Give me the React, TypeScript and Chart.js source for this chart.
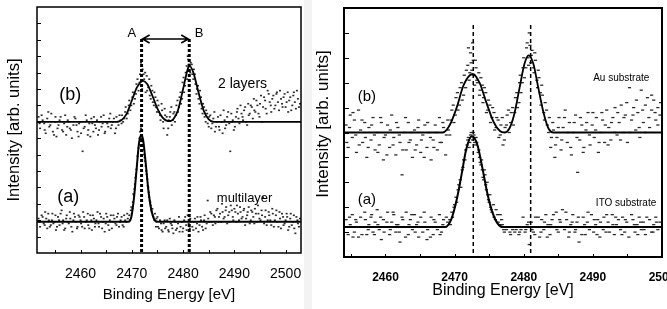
import React, { useEffect, useRef } from "react";
import { Chart, registerables } from "chart.js";

Chart.register(...registerables);
Chart.defaults.font.family = "'Liberation Sans', Arial, sans-serif";
Chart.defaults.color = "#000";

type P = [number, number];

// ---------------- LEFT PANEL DATA ----------------
const leftXMin = 2451.5;
const leftXMax = 2503;
const leftYMax = 15;
const leftTickLabels = [2460, 2470, 2480, 2490, 2500];

const leftFitB: P[] = [
  [2451.5, 8.0], [2467.0, 8.0], [2468.0, 8.1], [2469.0, 8.5], [2470.0, 9.3], [2471.0, 10.1],
  [2472.2, 10.5], [2473.0, 10.3], [2474.0, 9.6], [2475.0, 8.8], [2476.0, 8.25], [2477.0, 8.05],
  [2477.6, 8.05], [2478.2, 8.2], [2479.0, 8.7], [2480.0, 10.0], [2481.0, 11.3], [2481.3, 11.4],
  [2482.0, 11.0], [2483.0, 9.8], [2484.0, 8.7], [2485.0, 8.15], [2486.0, 8.0], [2503.0, 8.0],
];

const leftFitA: P[] = [
  [2451.5, 1.9], [2469.3, 1.9], [2469.9, 2.2], [2470.4, 3.3], [2470.9, 5.0], [2471.4, 6.7],
  [2471.8, 7.2], [2472.2, 6.9], [2472.7, 5.5], [2473.2, 3.9], [2473.7, 2.8], [2474.3, 2.1],
  [2475.0, 1.9], [2503.0, 1.9],
];

const leftPtsB: P[] = [
  [2451.8, 8.3], [2452.1, 7.6], [2452.4, 8.4], [2452.9, 7.9], [2453.2, 7.3], [2453.5, 8.2], [2453.9, 7.7],
  [2454.3, 8.5], [2454.6, 7.4], [2455.0, 8.0], [2455.3, 7.1], [2455.7, 7.8], [2456.1, 8.3], [2456.4, 7.5],
  [2456.8, 7.9], [2457.2, 7.2], [2457.5, 8.1], [2457.9, 7.6], [2458.3, 7.0], [2458.6, 7.8], [2459.0, 8.2],
  [2459.4, 7.4], [2459.7, 7.9], [2460.1, 7.3], [2460.4, 6.2], [2460.8, 7.7], [2461.2, 8.1], [2461.5, 7.5],
  [2461.9, 7.1], [2462.3, 7.9], [2462.6, 8.3], [2463.0, 7.6], [2463.4, 7.2], [2463.7, 8.0], [2464.1, 7.7],
  [2464.5, 8.4], [2464.8, 7.4], [2465.2, 7.9], [2465.6, 8.2], [2465.9, 7.6], [2466.3, 8.0], [2466.7, 7.3],
  [2467.0, 8.3], [2467.4, 7.8], [2467.8, 8.1],
  [2468.1, 8.4], [2468.5, 8.2], [2468.8, 8.9], [2469.2, 8.5], [2469.5, 9.3], [2469.9, 9.0], [2470.2, 9.8],
  [2470.6, 9.4], [2470.9, 10.3], [2471.3, 9.9], [2471.6, 10.9], [2471.9, 10.2], [2472.1, 11.2], [2472.4, 10.6],
  [2472.7, 9.8], [2472.9, 10.8], [2473.2, 10.1], [2473.5, 9.6], [2473.8, 10.2], [2474.1, 9.2], [2474.4, 9.8],
  [2474.7, 8.9], [2475.0, 9.3], [2475.3, 8.6], [2475.6, 8.1], [2475.9, 8.7], [2476.2, 7.6], [2476.5, 8.4],
  [2476.9, 7.2], [2477.2, 8.1], [2477.5, 8.6], [2477.8, 7.8],
  [2478.1, 8.5], [2478.4, 8.0], [2478.7, 9.0], [2479.0, 8.6], [2479.3, 9.5], [2479.6, 9.1], [2479.9, 10.4],
  [2480.2, 9.8], [2480.5, 11.0], [2480.8, 10.6], [2481.0, 11.8], [2481.2, 11.1], [2481.5, 11.6], [2481.8, 10.9],
  [2482.1, 11.2], [2482.4, 10.3], [2482.7, 10.0], [2483.0, 9.4], [2483.3, 9.9], [2483.6, 8.8], [2483.9, 9.1],
  [2484.2, 8.3], [2484.5, 8.7], [2484.8, 7.9], [2485.1, 8.3],
  [2485.5, 7.6], [2485.9, 8.2], [2486.2, 7.4], [2486.6, 8.0], [2487.0, 7.7], [2487.3, 8.4], [2487.7, 7.3],
  [2488.1, 8.1], [2488.4, 7.8], [2488.8, 8.6], [2489.2, 6.2], [2489.5, 8.0], [2489.9, 7.5], [2490.3, 8.3],
  [2490.6, 8.8], [2491.0, 7.9], [2491.4, 8.5], [2491.7, 8.1], [2492.1, 8.9], [2492.5, 7.8], [2492.8, 8.4],
  [2493.2, 9.0], [2493.6, 8.2], [2493.9, 8.7], [2494.3, 9.3], [2494.7, 8.5], [2495.0, 9.1], [2495.4, 8.0],
  [2495.8, 9.5], [2496.1, 8.8], [2496.5, 9.9], [2496.9, 9.2], [2497.2, 8.6], [2497.6, 9.6], [2498.0, 9.0],
  [2498.3, 9.8], [2498.7, 8.7], [2499.1, 9.4], [2499.4, 8.9], [2499.8, 9.7], [2500.2, 9.2], [2500.5, 8.6],
  [2500.9, 9.5], [2501.3, 9.0], [2501.6, 9.8], [2502.0, 8.8], [2502.4, 9.4], [2502.8, 9.1],
];

const leftPtsB2: P[] = [
  [2452.0, 7.9], [2452.6, 8.1], [2453.0, 7.5], [2453.7, 8.6], [2454.1, 7.8], [2454.8, 7.2], [2455.1, 8.3],
  [2455.5, 7.6], [2455.9, 8.1], [2456.6, 7.4], [2457.0, 8.4], [2457.4, 7.7], [2457.7, 8.0], [2458.1, 7.5],
  [2458.8, 8.3], [2459.2, 7.8], [2459.6, 7.1], [2460.0, 8.0], [2460.6, 7.6], [2461.0, 8.4], [2461.4, 7.2],
  [2461.7, 7.9], [2462.1, 8.2], [2462.5, 7.4], [2462.8, 7.8], [2463.2, 8.1], [2463.6, 7.5], [2464.0, 8.3],
  [2464.3, 7.9], [2464.7, 7.3], [2465.0, 8.0], [2465.4, 7.7], [2465.8, 8.5], [2466.1, 7.8], [2466.5, 8.2],
  [2466.9, 7.6], [2467.2, 8.0], [2467.6, 8.4], [2468.0, 7.9],
  [2468.3, 8.0], [2468.7, 8.6], [2469.0, 8.2], [2469.4, 9.0], [2469.7, 8.7], [2470.1, 9.5], [2470.4, 9.1],
  [2470.8, 9.7], [2471.1, 10.6], [2471.5, 10.4], [2471.8, 11.6], [2472.0, 10.0], [2472.3, 10.9], [2472.6, 11.0],
  [2473.0, 9.9], [2473.4, 10.6], [2473.7, 9.4], [2474.0, 9.9], [2474.3, 9.0], [2474.6, 9.5], [2474.9, 8.6],
  [2475.2, 9.0], [2475.5, 8.4], [2475.8, 9.1], [2476.1, 8.0], [2476.4, 8.8], [2476.8, 8.3], [2477.1, 7.6],
  [2477.4, 8.3], [2477.7, 8.9],
  [2478.0, 8.1], [2478.3, 8.6], [2478.6, 8.4], [2478.9, 9.3], [2479.2, 8.9], [2479.5, 9.8], [2479.8, 9.4],
  [2480.1, 10.7], [2480.4, 10.2], [2480.7, 11.4], [2480.9, 12.0], [2481.1, 11.5], [2481.4, 11.0], [2481.7, 11.5],
  [2482.0, 10.6], [2482.3, 10.9], [2482.6, 9.7], [2482.9, 10.2], [2483.2, 9.1], [2483.5, 9.5], [2483.8, 8.5],
  [2484.1, 8.9], [2484.4, 8.0], [2484.7, 8.5], [2485.0, 7.7],
  [2485.3, 8.4], [2485.7, 7.9], [2486.1, 8.6], [2486.4, 7.7], [2486.8, 8.3], [2487.1, 7.5], [2487.5, 8.0],
  [2487.9, 8.7], [2488.2, 7.6], [2488.6, 8.3], [2489.0, 7.9], [2489.4, 8.5], [2489.7, 8.1], [2490.1, 7.7],
  [2490.5, 8.6], [2490.8, 8.2], [2491.2, 9.0], [2491.6, 8.3], [2491.9, 8.7], [2492.3, 8.0], [2492.7, 9.1],
  [2493.0, 8.5], [2493.4, 8.9], [2493.8, 9.4], [2494.1, 8.6], [2494.5, 9.0], [2494.9, 8.3], [2495.2, 9.6],
  [2495.6, 8.9], [2496.0, 9.3], [2496.3, 8.5], [2496.7, 9.7], [2497.1, 9.0], [2497.4, 9.4], [2497.8, 8.8],
  [2498.2, 9.7], [2498.5, 9.2], [2498.9, 9.9], [2499.3, 9.1], [2499.6, 9.5], [2500.0, 8.9], [2500.4, 9.8],
  [2500.7, 9.3], [2501.1, 8.7], [2501.5, 9.6], [2501.8, 9.2], [2502.2, 9.9], [2502.6, 8.9],
];

const leftPtsA: P[] = [
  [2451.8, 2.1], [2452.1, 1.6], [2452.4, 2.3], [2452.8, 1.8], [2453.1, 2.5], [2453.5, 1.5], [2453.8, 2.0],
  [2454.2, 1.7], [2454.5, 2.4], [2454.9, 1.9], [2455.2, 1.4], [2455.6, 2.2], [2455.9, 1.7], [2456.3, 2.6],
  [2456.6, 2.0], [2457.0, 1.5], [2457.3, 2.3], [2457.7, 1.8], [2458.0, 2.1], [2458.4, 1.3], [2458.7, 2.4],
  [2459.1, 1.9], [2459.4, 1.6], [2459.8, 2.2], [2460.1, 1.8], [2460.5, 2.5], [2460.8, 1.5], [2461.2, 2.0],
  [2461.5, 1.7], [2461.9, 2.3], [2462.2, 1.4], [2462.6, 2.1], [2462.9, 1.8], [2463.3, 2.5], [2463.6, 1.6],
  [2464.0, 2.2], [2464.3, 1.9], [2464.7, 1.3], [2465.0, 2.4], [2465.4, 1.7], [2465.7, 2.0], [2466.1, 1.5],
  [2466.4, 2.3], [2466.8, 1.8], [2467.1, 2.2], [2467.5, 1.6], [2467.8, 2.0], [2468.2, 1.7], [2468.5, 2.3],
  [2468.9, 1.9], [2469.2, 2.1],
  [2469.5, 2.3], [2469.8, 2.6], [2470.0, 2.4], [2470.2, 3.1], [2470.4, 3.5], [2470.6, 4.2], [2470.8, 4.8],
  [2471.0, 5.4], [2471.2, 6.1], [2471.4, 6.6], [2471.6, 7.4], [2471.7, 7.0], [2471.9, 7.2], [2472.1, 6.8],
  [2472.3, 6.3], [2472.5, 5.8], [2472.7, 5.3], [2472.9, 4.8], [2473.1, 4.1], [2473.3, 3.7], [2473.5, 3.2],
  [2473.7, 2.9], [2473.9, 2.5], [2474.1, 2.3], [2474.4, 2.0], [2474.7, 1.6],
  [2475.0, 2.2], [2475.3, 1.5], [2475.7, 1.8], [2476.0, 1.3], [2476.4, 2.0], [2476.7, 1.6], [2477.1, 1.4],
  [2477.4, 2.1], [2477.8, 1.7], [2478.1, 1.2], [2478.5, 1.9], [2478.8, 1.5], [2479.2, 2.2], [2479.5, 1.6],
  [2479.9, 1.3], [2480.2, 2.0], [2480.6, 1.7], [2480.9, 2.3], [2481.3, 1.5], [2481.6, 1.9], [2482.0, 1.4],
  [2482.3, 2.1], [2482.7, 1.8], [2483.0, 1.3], [2483.4, 2.2], [2483.7, 1.6], [2484.1, 2.0], [2484.4, 1.5],
  [2484.8, 3.2], [2485.1, 1.9], [2485.5, 2.4], [2485.8, 1.7], [2486.2, 2.2], [2486.5, 2.6], [2486.9, 1.9],
  [2487.2, 2.4], [2487.6, 3.0], [2487.9, 2.1], [2488.3, 2.6], [2488.6, 1.8], [2489.0, 2.5], [2489.3, 2.9],
  [2489.7, 2.2], [2490.0, 2.7], [2490.4, 1.9], [2490.7, 2.4], [2491.1, 2.8], [2491.4, 2.1], [2491.8, 2.6],
  [2492.1, 1.7], [2492.5, 2.3], [2492.8, 2.8], [2493.2, 2.0], [2493.5, 2.5], [2493.9, 1.8], [2494.2, 2.4],
  [2494.6, 2.9], [2494.9, 2.1], [2495.3, 2.6], [2495.6, 3.4], [2496.0, 2.2], [2496.3, 1.7], [2496.7, 2.5],
  [2497.0, 2.0], [2497.4, 2.7], [2497.7, 1.6], [2498.1, 2.3], [2498.4, 1.9], [2498.8, 2.5], [2499.1, 1.5],
  [2499.5, 2.2], [2499.8, 1.8], [2500.2, 2.4], [2500.5, 1.4], [2500.9, 2.1], [2501.2, 1.7], [2501.6, 2.3],
  [2501.9, 1.2], [2502.3, 2.0], [2502.6, 1.6],
];

const leftPtsA2: P[] = [
  [2452.0, 1.9], [2452.6, 2.2], [2453.0, 1.7], [2453.3, 2.1], [2453.7, 2.4], [2454.0, 1.6], [2454.4, 2.0],
  [2454.7, 1.8], [2455.1, 2.3], [2455.4, 1.6], [2455.8, 2.0], [2456.1, 2.4], [2456.5, 1.8], [2456.8, 1.4],
  [2457.2, 2.1], [2457.5, 1.9], [2457.9, 2.5], [2458.2, 1.6], [2458.6, 2.0], [2458.9, 2.2], [2459.3, 1.5],
  [2459.6, 2.3], [2460.0, 2.0], [2460.3, 1.6], [2460.7, 2.2], [2461.0, 1.9], [2461.4, 2.4], [2461.7, 1.5],
  [2462.1, 2.0], [2462.4, 2.3], [2462.8, 1.6], [2463.1, 2.0], [2463.5, 1.8], [2463.8, 2.4], [2464.2, 1.5],
  [2464.5, 2.1], [2464.9, 1.8], [2465.2, 2.2], [2465.6, 1.4], [2465.9, 2.3], [2466.3, 1.9], [2466.6, 2.1],
  [2467.0, 1.7], [2467.3, 2.4], [2467.7, 1.9], [2468.0, 2.2], [2468.4, 1.6], [2468.7, 2.0], [2469.1, 2.4],
  [2469.6, 2.0], [2469.9, 2.8], [2470.1, 2.7], [2470.3, 3.6], [2470.5, 3.9], [2470.7, 4.6], [2470.9, 5.1],
  [2471.1, 5.9], [2471.3, 6.4], [2471.5, 7.0], [2471.8, 7.6], [2472.0, 7.0], [2472.2, 6.6], [2472.4, 6.0],
  [2472.6, 5.6], [2472.8, 5.0], [2473.0, 4.5], [2473.2, 4.0], [2473.4, 3.4], [2473.6, 3.1], [2473.8, 2.6],
  [2474.0, 2.7], [2474.2, 2.2], [2474.5, 2.4], [2474.8, 2.1],
  [2475.1, 1.6], [2475.5, 2.0], [2475.8, 1.4], [2476.2, 1.8], [2476.5, 1.5], [2476.9, 2.0], [2477.2, 1.3],
  [2477.6, 1.8], [2477.9, 1.5], [2478.3, 2.0], [2478.6, 1.4], [2479.0, 1.8], [2479.3, 1.3], [2479.7, 1.9],
  [2480.0, 1.5], [2480.4, 2.2], [2480.7, 1.4], [2481.1, 1.8], [2481.4, 2.1], [2481.8, 1.6], [2482.1, 1.9],
  [2482.5, 1.5], [2482.8, 2.2], [2483.2, 1.7], [2483.5, 2.0], [2483.9, 1.4], [2484.2, 2.3], [2484.6, 1.8],
  [2484.9, 2.1], [2485.3, 2.5], [2485.6, 1.9], [2486.0, 2.3], [2486.3, 1.8], [2486.7, 2.7], [2487.0, 2.2],
  [2487.4, 1.9], [2487.7, 2.5], [2488.1, 2.2], [2488.4, 2.8], [2488.8, 2.3], [2489.1, 1.9], [2489.5, 2.6],
  [2489.8, 2.0], [2490.2, 2.5], [2490.5, 2.9], [2490.9, 2.0], [2491.2, 2.5], [2491.6, 2.2], [2491.9, 2.7],
  [2492.3, 2.1], [2492.6, 2.5], [2493.0, 1.8], [2493.3, 2.6], [2493.7, 2.2], [2494.0, 2.7], [2494.4, 1.9],
  [2494.7, 2.4], [2495.1, 2.0], [2495.4, 2.3], [2495.8, 1.8], [2496.1, 2.6], [2496.5, 2.0], [2496.8, 2.3],
  [2497.2, 1.7], [2497.5, 2.4], [2497.9, 2.0], [2498.2, 2.6], [2498.6, 1.6], [2498.9, 2.1], [2499.3, 2.4],
  [2499.6, 1.7], [2500.0, 2.0], [2500.3, 2.2], [2500.7, 1.6], [2501.0, 2.4], [2501.4, 1.9], [2501.7, 1.5],
  [2502.1, 2.2], [2502.4, 1.8], [2502.8, 2.1],
];

// ---------------- RIGHT PANEL DATA ----------------
const rightXMin = 2454;
const rightXMax = 2500;
const rightYMax = 10;
const rightTickLabels = [2460, 2470, 2480, 2490, 2500];

const rightFitB: P[] = [
  [2454, 5.0], [2468.3, 5.0], [2469.3, 5.3], [2470.3, 6.0], [2471.3, 6.9], [2472.6, 7.35], [2473.6, 7.0],
  [2474.6, 6.2], [2475.6, 5.45], [2476.6, 5.05], [2477.2, 5.0], [2477.9, 5.15], [2478.6, 5.7], [2479.4, 6.8],
  [2480.1, 7.75], [2480.7, 8.1], [2481.4, 7.75], [2482.1, 6.8], [2482.9, 5.75], [2483.6, 5.15], [2484.3, 5.0],
  [2500, 5.0],
];

const rightFitA: P[] = [
  [2454, 1.2], [2468.6, 1.2], [2469.5, 1.5], [2470.3, 2.3], [2471.0, 3.3], [2471.7, 4.35], [2472.5, 4.85],
  [2473.3, 4.5], [2474.0, 3.6], [2474.7, 2.6], [2475.4, 1.85], [2476.2, 1.35], [2477.0, 1.2], [2500, 1.2],
];

const rightPtsB: P[] = [
  [2454.3, 5.3], [2454.6, 4.4], [2454.9, 5.7], [2455.2, 4.8], [2455.5, 5.5], [2455.8, 4.2], [2456.1, 5.9],
  [2456.4, 5.1], [2456.7, 4.6], [2457.0, 5.4], [2457.3, 4.0], [2457.6, 5.2], [2457.9, 4.7], [2458.2, 5.6],
  [2458.5, 4.3], [2458.8, 5.0], [2459.1, 4.5], [2459.4, 5.4], [2459.7, 3.9], [2460.0, 4.9], [2460.3, 5.3],
  [2460.6, 4.4], [2460.9, 5.7], [2461.2, 4.8], [2461.5, 4.1], [2461.8, 5.2], [2462.1, 4.6], [2462.4, 3.3],
  [2462.7, 5.0], [2463.0, 4.3], [2463.3, 5.4], [2463.6, 4.7], [2463.9, 4.0], [2464.2, 5.1], [2464.5, 4.5],
  [2464.8, 5.5], [2465.1, 4.2], [2465.4, 4.9], [2465.7, 5.3], [2466.0, 4.4], [2466.3, 5.0], [2466.6, 3.9],
  [2466.9, 4.7], [2467.2, 5.3], [2467.5, 4.3], [2467.8, 5.6], [2468.1, 4.6], [2468.4, 5.2], [2468.7, 4.1],
  [2469.0, 5.5], [2469.3, 4.9], [2469.6, 5.9], [2469.9, 5.4], [2470.2, 6.4], [2470.5, 5.9], [2470.8, 6.8],
  [2471.1, 6.3], [2471.4, 7.3], [2471.6, 6.8], [2471.9, 7.7], [2472.1, 7.1], [2472.3, 8.2], [2472.5, 7.5],
  [2472.7, 7.9], [2472.9, 6.9], [2473.1, 7.6], [2473.3, 7.0], [2473.6, 6.5], [2473.8, 7.2], [2474.1, 6.2],
  [2474.3, 6.8], [2474.6, 5.8], [2474.9, 6.3], [2475.2, 5.4], [2475.5, 6.0], [2475.8, 5.1], [2476.1, 5.6],
  [2476.4, 4.8], [2476.7, 5.3], [2477.0, 4.5], [2477.3, 5.2], [2477.6, 5.7],
  [2477.9, 5.0], [2478.2, 5.8], [2478.5, 5.3], [2478.8, 6.4], [2479.1, 6.0], [2479.4, 7.0], [2479.6, 6.6],
  [2479.9, 7.6], [2480.1, 7.2], [2480.4, 8.4], [2480.6, 8.0], [2480.8, 9.0], [2481.0, 7.8], [2481.2, 8.3],
  [2481.5, 7.4], [2481.7, 7.9], [2482.0, 6.8], [2482.2, 7.2], [2482.5, 6.1], [2482.7, 6.5], [2483.0, 5.5],
  [2483.3, 5.9], [2483.6, 5.0], [2483.9, 4.4], [2484.2, 5.4], [2484.5, 4.0],
  [2484.8, 4.8], [2485.1, 5.6], [2485.4, 4.3], [2485.7, 5.2], [2486.0, 5.9], [2486.3, 4.6], [2486.6, 5.4],
  [2486.9, 4.1], [2487.2, 5.0], [2487.5, 5.7], [2487.8, 3.4], [2488.1, 4.7], [2488.4, 5.3], [2488.7, 4.4],
  [2489.0, 5.1], [2489.3, 5.8], [2489.6, 4.5], [2489.9, 5.3], [2490.2, 4.8], [2490.5, 5.6], [2490.8, 4.2],
  [2491.1, 5.0], [2491.4, 5.5], [2491.7, 4.6], [2492.0, 5.9], [2492.3, 5.2], [2492.6, 4.7], [2492.9, 5.6],
  [2493.2, 6.0], [2493.5, 4.9], [2493.8, 5.4], [2494.1, 6.1], [2494.4, 5.0], [2494.7, 5.7], [2495.0, 4.6],
  [2495.3, 6.8], [2495.6, 5.5], [2495.9, 6.0], [2496.2, 5.1], [2496.5, 5.8], [2496.8, 4.8], [2497.0, 6.7],
  [2497.3, 5.4], [2497.6, 6.1], [2497.9, 6.4], [2498.2, 5.2], [2498.5, 5.9], [2498.8, 6.3], [2499.1, 5.5],
  [2499.4, 6.0], [2499.7, 5.7],
];

const rightPtsB2: P[] = [
  [2454.4, 4.6], [2454.8, 5.2], [2455.3, 5.8], [2455.7, 4.9], [2456.2, 4.5], [2456.6, 5.5], [2457.1, 4.8],
  [2457.5, 4.4], [2458.0, 5.3], [2458.4, 4.9], [2458.9, 4.2], [2459.3, 5.6], [2459.8, 4.8], [2460.2, 4.1],
  [2460.7, 5.1], [2461.1, 4.5], [2461.6, 5.4], [2462.0, 4.9], [2462.5, 4.3], [2462.9, 5.6], [2463.4, 4.6],
  [2463.8, 5.0], [2464.3, 4.3], [2464.7, 5.2], [2465.2, 4.7], [2465.6, 4.0], [2466.1, 5.4], [2466.5, 4.8],
  [2467.0, 4.4], [2467.4, 5.0], [2467.9, 4.6], [2468.3, 5.4], [2468.8, 4.9],
  [2469.1, 5.1], [2469.5, 5.5], [2469.8, 6.1], [2470.1, 5.7], [2470.4, 6.6], [2470.7, 6.1], [2471.0, 7.0],
  [2471.3, 6.5], [2471.7, 7.5], [2472.0, 8.4], [2472.2, 7.4], [2472.4, 7.8], [2472.6, 8.6], [2472.8, 7.3],
  [2473.0, 7.9], [2473.2, 7.1], [2473.5, 7.4], [2473.7, 6.7], [2474.0, 6.9], [2474.2, 6.4], [2474.5, 6.6],
  [2474.8, 5.9], [2475.1, 6.1], [2475.4, 5.6], [2475.7, 5.8], [2476.0, 5.2], [2476.3, 5.5], [2476.6, 4.9],
  [2476.9, 5.6], [2477.2, 4.7], [2477.5, 5.3], [2477.8, 5.9],
  [2478.1, 5.4], [2478.4, 6.0], [2478.7, 5.8], [2479.0, 6.6], [2479.3, 6.2], [2479.5, 7.3], [2479.8, 7.0],
  [2480.0, 8.0], [2480.3, 7.6], [2480.5, 8.6], [2480.7, 7.7], [2480.9, 8.5], [2481.1, 8.1], [2481.4, 7.6],
  [2481.6, 8.2], [2481.9, 7.1], [2482.1, 7.5], [2482.4, 6.6], [2482.6, 6.9], [2482.9, 5.8], [2483.1, 6.2],
  [2483.4, 5.3], [2483.7, 5.6], [2484.0, 4.8], [2484.3, 5.1], [2484.6, 4.5],
  [2485.0, 5.2], [2485.5, 4.7], [2485.9, 5.6], [2486.4, 5.0], [2486.8, 4.4], [2487.3, 5.4], [2487.7, 4.8],
  [2488.2, 5.6], [2488.6, 4.2], [2489.1, 5.4], [2489.5, 4.9], [2490.0, 5.8], [2490.4, 5.1], [2490.9, 4.6],
  [2491.3, 5.8], [2491.8, 5.3], [2492.2, 4.5], [2492.7, 5.4], [2493.1, 5.0], [2493.6, 5.8], [2494.0, 4.7],
  [2494.5, 5.6], [2494.9, 6.2], [2495.4, 5.0], [2495.8, 5.7], [2496.3, 6.3], [2496.7, 5.2], [2497.2, 5.9],
  [2497.6, 5.0], [2498.1, 5.6], [2498.5, 6.5], [2499.0, 5.8], [2499.4, 5.3], [2499.8, 6.2],
];

const rightPtsA: P[] = [
  [2454.3, 1.5], [2454.6, 0.9], [2454.9, 1.3], [2455.2, 1.7], [2455.5, 1.0], [2455.8, 1.4], [2456.1, 0.8],
  [2456.4, 1.6], [2456.7, 1.2], [2457.0, 1.8], [2457.3, 0.9], [2457.6, 1.3], [2457.9, 1.6], [2458.2, 1.0],
  [2458.5, 1.4], [2458.8, 1.9], [2459.1, 1.1], [2459.4, 0.7], [2459.7, 1.5], [2460.0, 1.2], [2460.3, 1.8],
  [2460.6, 0.9], [2460.9, 1.4], [2461.2, 1.7], [2461.5, 1.0], [2461.8, 1.3], [2462.1, 0.6], [2462.4, 1.6],
  [2462.7, 1.2], [2463.0, 1.8], [2463.3, 0.9], [2463.6, 1.5], [2463.9, 1.1], [2464.2, 1.7], [2464.5, 1.3],
  [2464.8, 0.8], [2465.1, 1.6], [2465.4, 1.0], [2465.7, 1.4], [2466.0, 0.7], [2466.3, 1.2], [2466.6, 1.6],
  [2466.9, 0.9], [2467.2, 1.4], [2467.5, 1.1], [2467.8, 1.7], [2468.1, 1.0], [2468.4, 1.5], [2468.7, 1.2],
  [2469.0, 1.4], [2469.3, 1.5], [2469.6, 1.8], [2469.9, 2.0], [2470.2, 2.4], [2470.5, 2.7], [2470.8, 3.1],
  [2471.1, 3.5], [2471.3, 3.9], [2471.6, 4.3], [2471.8, 4.5], [2472.0, 4.8], [2472.2, 4.6], [2472.4, 5.0],
  [2472.6, 4.7], [2472.8, 4.9], [2473.0, 4.5], [2473.2, 4.6], [2473.4, 4.2], [2473.6, 4.0], [2473.8, 3.7],
  [2474.0, 3.5], [2474.2, 3.1], [2474.4, 3.3], [2474.6, 2.7], [2474.8, 2.5], [2475.0, 2.2], [2475.2, 2.0],
  [2475.4, 1.8], [2475.7, 1.6], [2476.0, 1.9], [2476.3, 1.4], [2476.6, 1.7],
  [2476.9, 1.3], [2477.2, 1.0], [2477.5, 1.1], [2477.8, 1.2], [2478.1, 0.9], [2478.4, 1.1], [2478.7, 1.0],
  [2479.0, 1.2], [2479.3, 0.9], [2479.6, 1.1], [2479.9, 1.6], [2480.2, 1.0], [2480.5, 1.3], [2480.8, 0.5],
  [2481.1, 1.4], [2481.4, 1.0], [2481.7, 1.6], [2482.0, 1.2], [2482.3, 0.8], [2482.6, 1.5], [2482.9, 1.1],
  [2483.2, 1.7], [2483.5, 1.3], [2483.8, 0.9], [2484.1, 1.5], [2484.4, 1.2], [2484.7, 1.8], [2485.0, 1.0],
  [2485.3, 1.4], [2485.6, 1.9], [2485.9, 1.1], [2486.2, 1.5], [2486.5, 0.8], [2486.8, 1.3], [2487.1, 1.7],
  [2487.4, 1.0], [2487.7, 1.4], [2488.0, 0.6], [2488.3, 1.2], [2488.6, 1.6], [2488.9, 0.9], [2489.2, 1.4],
  [2489.5, 1.1], [2489.8, 1.7], [2490.1, 1.0], [2490.4, 1.3], [2490.7, 1.5], [2491.0, 0.8], [2491.3, 1.2],
  [2491.6, 1.6], [2491.9, 1.0], [2492.2, 1.4], [2492.5, 1.2], [2492.8, 1.7], [2493.1, 0.9], [2493.4, 1.3],
  [2493.7, 1.5], [2494.0, 1.1], [2494.3, 1.6], [2494.6, 1.0], [2494.9, 1.4], [2495.2, 0.8], [2495.5, 1.2],
  [2495.8, 1.5], [2496.1, 1.0], [2496.4, 1.3], [2496.7, 1.6], [2497.0, 1.1], [2497.3, 1.4], [2497.6, 0.9],
  [2497.9, 1.2], [2498.2, 1.5], [2498.5, 1.0], [2498.8, 1.3], [2499.1, 1.6], [2499.4, 1.1], [2499.7, 1.4],
];

const rightPtsA2: P[] = [
  [2454.4, 1.2], [2454.8, 1.6], [2455.3, 0.8], [2455.7, 1.5], [2456.2, 1.2], [2456.6, 0.9], [2457.1, 1.5],
  [2457.5, 1.1], [2458.0, 1.7], [2458.4, 0.9], [2458.9, 1.3], [2459.3, 1.6], [2459.8, 1.0], [2460.2, 1.4],
  [2460.7, 1.1], [2461.1, 1.8], [2461.6, 1.3], [2462.0, 1.0], [2462.5, 1.5], [2462.9, 0.8], [2463.4, 1.3],
  [2463.8, 1.7], [2464.3, 1.0], [2464.7, 1.4], [2465.2, 1.2], [2465.6, 1.8], [2466.1, 1.1], [2466.5, 0.8],
  [2467.0, 1.5], [2467.4, 1.2], [2467.9, 0.9], [2468.3, 1.3], [2468.8, 1.6],
  [2469.4, 1.3], [2469.7, 1.6], [2470.0, 2.1], [2470.3, 2.2], [2470.6, 2.9], [2470.9, 2.8], [2471.2, 3.6],
  [2471.5, 3.9], [2471.9, 4.7], [2472.1, 4.4], [2472.3, 4.9], [2472.7, 5.0], [2472.9, 4.6], [2473.1, 4.8],
  [2473.5, 4.3], [2473.7, 3.8], [2473.9, 3.9], [2474.1, 3.2], [2474.3, 3.5], [2474.5, 2.9], [2474.7, 3.0],
  [2474.9, 2.3], [2475.1, 2.5], [2475.3, 1.9], [2475.6, 2.1], [2475.9, 1.5], [2476.2, 1.7], [2476.5, 1.3],
  [2476.8, 1.5],
  [2477.1, 1.1], [2477.6, 1.2], [2478.0, 1.0], [2478.5, 1.2], [2478.9, 1.1], [2479.4, 1.0], [2479.8, 1.2],
  [2480.3, 1.1], [2480.7, 1.4], [2481.2, 1.1], [2481.6, 0.9], [2482.1, 1.6], [2482.5, 1.0], [2483.0, 1.4],
  [2483.4, 0.8], [2483.9, 1.3], [2484.3, 1.7], [2484.8, 1.1], [2485.2, 1.5], [2485.7, 1.2], [2486.1, 1.8],
  [2486.6, 1.0], [2487.0, 1.4], [2487.5, 1.1], [2487.9, 1.6], [2488.4, 0.9], [2488.8, 1.3], [2489.3, 1.8],
  [2489.7, 1.2], [2490.2, 1.5], [2490.6, 0.9], [2491.1, 1.4], [2491.5, 1.1], [2492.0, 1.7], [2492.4, 1.0],
  [2492.9, 1.3], [2493.3, 1.6], [2493.8, 1.2], [2494.2, 0.9], [2494.7, 1.5], [2495.1, 1.2], [2495.6, 1.7],
  [2496.0, 1.3], [2496.5, 0.9], [2496.9, 1.4], [2497.4, 1.1], [2497.8, 1.6], [2498.3, 1.2], [2498.7, 1.0],
  [2499.2, 1.4], [2499.6, 1.2],
];

// ---------------- OVERLAY PLUGIN ----------------
const FONT = "'Liberation Sans', Arial, sans-serif";

type TextNote = { text: string; x: number; y: number; size: number };
type OverlayOpts = {
  frameWidth: number;
  xTickStep: number;
  xTickLen: number;
  yTickLen: number;
  vlines: { x: number; yTop: number; width: number; dash: number[] }[];
  arrow?: { x1: number; x2: number; y: number };
  notes: TextNote[];
  yTitle?: { text: string; cx: number; cy: number; size: number };
};

const overlayPlugin = {
  id: "overlay",
  afterDatasetsDraw(chart: any, _args: any, opts: OverlayOpts) {
    const { ctx, chartArea: a, scales } = chart;
    const xs = scales.x;
    const ys = scales.y;
    ctx.save();
    ctx.strokeStyle = "#000";
    ctx.fillStyle = "#000";

    opts.vlines.forEach((v) => {
      const px = xs.getPixelForValue(v.x);
      ctx.beginPath();
      ctx.lineWidth = v.width;
      ctx.setLineDash(v.dash);
      ctx.moveTo(px, ys.getPixelForValue(v.yTop));
      ctx.lineTo(px, a.bottom);
      ctx.stroke();
    });
    ctx.setLineDash([]);

    if (opts.arrow) {
      const x1 = xs.getPixelForValue(opts.arrow.x1) + 1;
      const x2 = xs.getPixelForValue(opts.arrow.x2) - 1;
      const py = ys.getPixelForValue(opts.arrow.y);
      ctx.lineWidth = 1.6;
      ctx.beginPath();
      ctx.moveTo(x1, py);
      ctx.lineTo(x2, py);
      ctx.moveTo(x1 + 7, py - 4);
      ctx.lineTo(x1, py);
      ctx.lineTo(x1 + 7, py + 4);
      ctx.moveTo(x2 - 7, py - 4);
      ctx.lineTo(x2, py);
      ctx.lineTo(x2 - 7, py + 4);
      ctx.stroke();
    }

    ctx.lineWidth = opts.frameWidth;
    ctx.strokeRect(a.left, a.top, a.right - a.left, a.bottom - a.top);

    ctx.lineWidth = 1;
    ctx.beginPath();
    xs.ticks.forEach((t: any) => {
      if (Math.abs(t.value % opts.xTickStep) > 1e-6) return;
      const px = Math.round(xs.getPixelForValue(t.value)) + 0.5;
      ctx.moveTo(px, a.bottom);
      ctx.lineTo(px, a.bottom - opts.xTickLen);
    });
    ys.ticks.forEach((t: any) => {
      const py = Math.round(ys.getPixelForValue(t.value)) + 0.5;
      if (py <= a.top + 2 || py >= a.bottom - 2) return;
      ctx.moveTo(a.left, py);
      ctx.lineTo(a.left + opts.yTickLen, py);
    });
    ctx.stroke();

    ctx.textAlign = "center";
    ctx.textBaseline = "middle";
    opts.notes.forEach((n) => {
      ctx.font = `${n.size}px ${FONT}`;
      ctx.fillText(n.text, xs.getPixelForValue(n.x), ys.getPixelForValue(n.y));
    });

    if (opts.yTitle) {
      ctx.save();
      ctx.translate(opts.yTitle.cx, opts.yTitle.cy);
      ctx.rotate(-Math.PI / 2);
      ctx.font = `${opts.yTitle.size}px ${FONT}`;
      ctx.fillText(opts.yTitle.text, 0, 0);
      ctx.restore();
    }
    ctx.restore();
  },
};

type PanelSpec = {
  xMin: number;
  xMax: number;
  yMax: number;
  tickLabels: number[];
  fitB: P[];
  fitA: P[];
  ptsB: P[];
  ptsA: P[];
  fitWidthB: number;
  fitWidthA: number;
  pointRadius: number;
  pointWidth: number;
  padTop: number;
  padRight: number;
  yAxisW: number;
  xAxisH: number;
  tickFont: any;
  tickPad: number;
  xTitleFont: any;
  xTitlePad: number;
  yTitleFont: any;
  yTitlePad: number;
  yTitleByScale: boolean;
  overlay: OverlayOpts;
};

function toXY(arr: P[]) {
  return arr.map(([x, y]) => ({ x, y }));
}

function buildConfig(p: PanelSpec): any {
  const lineDs = (d: P[], w: number) => ({
    data: toXY(d),
    showLine: true,
    borderColor: "#000",
    borderWidth: w,
    pointRadius: 0,
    cubicInterpolationMode: "monotone",
    fill: false,
  });
  const ptsDs = (d: P[]) => ({
    data: toXY(d),
    showLine: false,
    pointStyle: "line",
    pointRadius: p.pointRadius,
    pointBorderWidth: p.pointWidth,
    borderColor: "#2a2a2a",
    backgroundColor: "#2a2a2a",
    pointHoverRadius: 0,
  });
  return {
    type: "scatter",
    data: {
      datasets: [lineDs(p.fitB, p.fitWidthB), lineDs(p.fitA, p.fitWidthA), ptsDs(p.ptsB), ptsDs(p.ptsA)],
    },
    options: {
      animation: false,
      responsive: false,
      events: [],
      layout: { padding: { left: 0, top: p.padTop, right: p.padRight, bottom: 0 } },
      plugins: {
        legend: { display: false },
        tooltip: { enabled: false },
        overlay: p.overlay,
      },
      scales: {
        x: {
          type: "linear",
          min: p.xMin,
          max: p.xMax,
          afterFit: (s: any) => {
            s.height = p.xAxisH;
            s.paddingLeft = 0;
            s.paddingRight = 0;
          },
          ticks: {
            stepSize: 5,
            includeBounds: false,
            autoSkip: false,
            maxRotation: 0,
            minRotation: 0,
            padding: p.tickPad,
            color: "#000",
            font: p.tickFont,
            callback: (v: number) => (p.tickLabels.includes(v) ? String(v) : ""),
          },
          grid: { display: false },
          border: { display: false },
          title: {
            display: true,
            text: "Binding Energy [eV]",
            color: "#000",
            font: p.xTitleFont,
            padding: { top: 0, bottom: p.xTitlePad },
          },
        },
        y: {
          type: "linear",
          min: 0,
          max: p.yMax,
          afterFit: (s: any) => {
            s.width = p.yAxisW;
            s.paddingTop = 0;
            s.paddingBottom = 0;
          },
          ticks: { display: false, stepSize: 1 },
          grid: { display: false },
          border: { display: false },
          title: {
            display: p.yTitleByScale,
            text: "Intensity [arb. units]",
            color: "#000",
            font: p.yTitleFont,
            padding: { top: p.yTitlePad, bottom: 0 },
          },
        },
      },
    },
    plugins: [overlayPlugin],
  };
}

const leftSpec: PanelSpec = {
  xMin: leftXMin,
  xMax: leftXMax,
  yMax: leftYMax,
  tickLabels: leftTickLabels,
  fitB: leftFitB,
  fitA: leftFitA,
  ptsB: [...leftPtsB, ...leftPtsB2],
  ptsA: [...leftPtsA, ...leftPtsA2],
  fitWidthB: 1.8,
  fitWidthA: 2.0,
  pointRadius: 1,
  pointWidth: 1.6,
  padTop: 7,
  padRight: 11,
  yAxisW: 37,
  xAxisH: 56,
  tickFont: { size: 14, family: FONT },
  tickPad: 5,
  xTitleFont: { size: 15, family: FONT },
  xTitlePad: 5,
  yTitleFont: { size: 16.5, family: FONT },
  yTitlePad: 5,
  yTitleByScale: true,
  overlay: {
    frameWidth: 1.5,
    xTickStep: 5,
    xTickLen: 3,
    yTickLen: 4,
    vlines: [
      { x: 2471.9, yTop: 13.05, width: 3, dash: [3, 2] },
      { x: 2481.2, yTop: 13.05, width: 3, dash: [3, 2] },
    ],
    arrow: { x1: 2471.9, x2: 2481.2, y: 13.05 },
    notes: [
      { text: "A", x: 2470.0, y: 13.4, size: 13 },
      { text: "B", x: 2483.1, y: 13.4, size: 13 },
      { text: "(b)", x: 2458.0, y: 9.63, size: 18 },
      { text: "(a)", x: 2457.6, y: 3.4, size: 18 },
      { text: "2 layers", x: 2491.6, y: 10.3, size: 14 },
      { text: "multilayer", x: 2492.0, y: 3.35, size: 13 },
    ],
  },
};

const rightSpec: PanelSpec = {
  xMin: rightXMin,
  xMax: rightXMax,
  yMax: rightYMax,
  tickLabels: rightTickLabels,
  fitB: rightFitB,
  fitA: rightFitA,
  ptsB: [...rightPtsB, ...rightPtsB2],
  ptsA: [...rightPtsA, ...rightPtsA2],
  fitWidthB: 1.8,
  fitWidthA: 2.0,
  pointRadius: 1.6,
  pointWidth: 1.3,
  padTop: 8,
  padRight: 5,
  yAxisW: 32,
  xAxisH: 52,
  tickFont: { size: 12, weight: "bold", family: "'Liberation Sans Narrow', 'Liberation Sans', Arial, sans-serif" },
  tickPad: 5,
  xTitleFont: { size: 16, family: FONT },
  xTitlePad: 9,
  yTitleFont: { size: 17, family: FONT },
  yTitlePad: 1,
  yTitleByScale: false,
  overlay: {
    frameWidth: 2,
    xTickStep: 5,
    xTickLen: 3,
    yTickLen: 5,
    vlines: [
      { x: 2472.7, yTop: 9.32, width: 1.5, dash: [4, 3] },
      { x: 2481.0, yTop: 9.32, width: 1.5, dash: [4, 3] },
    ],
    notes: [
      { text: "(b)", x: 2457.3, y: 6.43, size: 15 },
      { text: "(a)", x: 2457.3, y: 2.29, size: 15 },
      { text: "Au substrate", x: 2494.1, y: 7.19, size: 10 },
      { text: "ITO substrate", x: 2494.8, y: 2.17, size: 10 },
    ],
    yTitle: { text: "Intensity [arb. units]", cx: 11, cy: 124, size: 17 },
  },
};

function Panel({ left, width, height, spec }: { left: number; width: number; height: number; spec: PanelSpec }) {
  const ref = useRef<HTMLCanvasElement>(null);
  useEffect(() => {
    const chart = new Chart(ref.current as HTMLCanvasElement, buildConfig(spec));
    return () => chart.destroy();
  }, [spec]);
  return (
    <div style={{ position: "absolute", left, top: 0, width, height }}>
      <canvas ref={ref} width={width} height={height} style={{ display: "block", width, height }} />
    </div>
  );
}

export default function App() {
  return (
    <div style={{ position: "fixed", left: 0, top: 0, width: 667, height: 309, background: "#fff", overflow: "hidden" }}>
      <Panel left={0} width={312} height={309} spec={leftSpec} />
      <div style={{ position: "absolute", left: 304, top: 0, width: 8, height: 309, background: "#f3f3f3" }} />
      <Panel left={312} width={355} height={309} spec={rightSpec} />
    </div>
  );
}
